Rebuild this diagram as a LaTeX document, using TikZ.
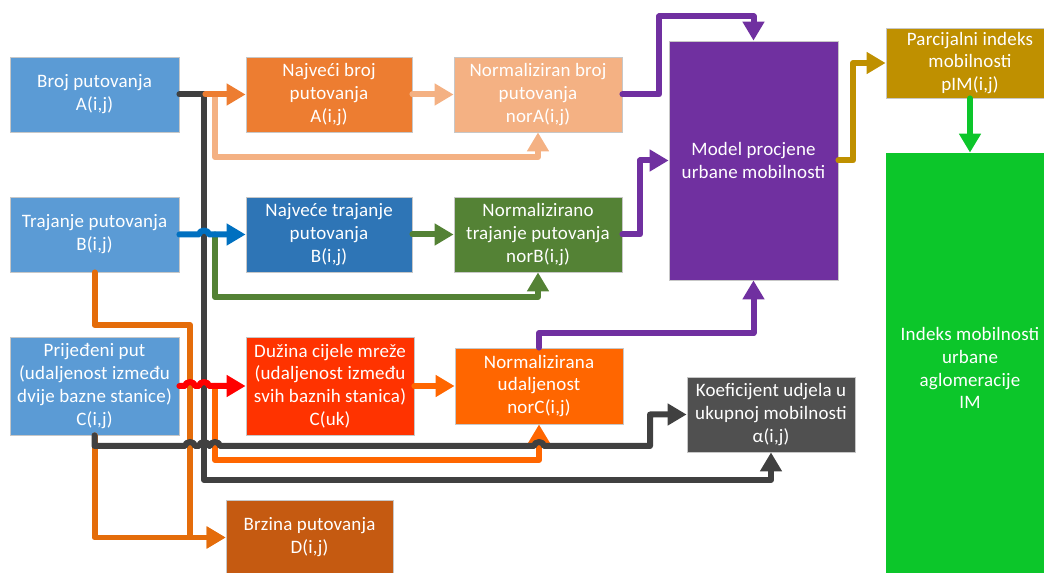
\documentclass[tikz,border=0pt]{standalone}
\usepackage{fontspec}
\setmainfont{Carlito}
\usepackage{xcolor}
\usepackage{tikz}
\usetikzlibrary{arrows.meta}

\definecolor{cellblue}{HTML}{5B9BD5}
\definecolor{boxorange}{HTML}{ED7D31}
\definecolor{boxblue}{HTML}{2E75B6}
\definecolor{boxred}{HTML}{FF3300}
\definecolor{peach}{HTML}{F4B183}
\definecolor{boxgreen}{HTML}{548235}
\definecolor{normorange}{HTML}{FF6600}
\definecolor{modelpurple}{HTML}{7030A0}
\definecolor{gold}{HTML}{BF9000}
\definecolor{idxgreen}{HTML}{0CC62A}
\definecolor{koefgray}{HTML}{505050}
\definecolor{brown}{HTML}{C55A11}
\definecolor{wiregray}{HTML}{404040}
\definecolor{arrowblue}{HTML}{0070C0}
\definecolor{arrowred}{HTML}{FF0000}
\definecolor{speedorange}{HTML}{E46C0A}

\begin{document}
\begin{tikzpicture}[x=0.02cm, y=-0.02cm,
    box/.style={draw=black!22, line width=0.5pt, text=white, align=center, inner sep=0pt,
      font=\fontsize{10.8}{13}\selectfont\addfontfeatures{LetterSpace=1}},
    link/.style={line width=0.12cm, line join=round, line cap=round,
      -{Triangle[length=0.38cm,width=0.42cm]}},
    wire/.style={line width=0.12cm, line join=round, line cap=round}]
  \useasboundingbox (0,0) rectangle (1044,573);

  % input boxes
  \node[box, fill=cellblue, minimum width=3.38cm, minimum height=1.5cm] (brojA) at (94.5,94.5) {Broj putovanja\\A(i,j)};
  \node[box, fill=cellblue, minimum width=3.38cm, minimum height=1.5cm] (trajB) at (94.5,234.5) {Trajanje putovanja\\B(i,j)};
  \node[box, fill=cellblue, minimum width=3.38cm, minimum height=1.96cm] (putC) at (94.5,386) {Prijeđeni put\\(udaljenost između\\dvije bazne stanice)\\C(i,j)};

  % maxima
  \node[box, fill=boxorange, minimum width=3.32cm, minimum height=1.5cm] (najA) at (329,94.5) {Najveći broj\\putovanja\\A(i,j)};
  \node[box, fill=boxblue, minimum width=3.32cm, minimum height=1.5cm] (najB) at (329,234.5) {Najveće trajanje\\putovanja\\B(i,j)};
  \node[box, fill=boxred, minimum width=3.36cm, minimum height=1.96cm] (duzC) at (330,386) {Dužina cijele mreže\\(udaljenost između\\svih baznih stanica)\\C(uk)};

  % normalised values
  \node[box, fill=peach, minimum width=3.36cm, minimum height=1.5cm] (norA) at (538,94.5) {Normaliziran broj\\putovanja\\norA(i,j)};
  \node[box, fill=boxgreen, minimum width=3.36cm, minimum height=1.5cm] (norB) at (538,234.5) {Normalizirano\\trajanje putovanja\\norB(i,j)};
  \node[box, fill=normorange, minimum width=3.36cm, minimum height=1.52cm] (norC) at (539,386) {Normalizirana\\udaljenost\\norC(i,j)};

  \node[box, fill=modelpurple, minimum width=3.38cm, minimum height=4.78cm] (model) at (753.5,160.5) {Model procjene\\urbane mobilnosti};
  \node[box, fill=gold, minimum width=3.36cm, minimum height=1.4cm] (pim) at (970,63) {Parcijalni indeks\\mobilnosti\\pIM(i,j)};
  \node[box, fill=idxgreen, draw=none, minimum width=3.36cm, minimum height=8.6cm] (idx) at (970,368) {Indeks mobilnosti\\urbane\\aglomeracije\\IM};
  \node[box, fill=koefgray, minimum width=3.36cm, minimum height=1.5cm] (koef) at (771,414.5) {Koeficijent udjela u\\ukupnoj mobilnosti\\α(i,j)};
  \node[box, fill=brown, minimum width=3.34cm, minimum height=1.5cm] (brz) at (309.5,537.5) {Brzina putovanja\\D(i,j)};

  % towards the speed box
  \draw[link, speedorange] (trajB.south) -- (94.5,325) -- (190,325) -- (190,537.5) -- (brz.west);
  \draw[link, speedorange] (putC.south) -- (94.5,537.5) -- (brz.west);

  % feedback lines
  \foreach \y/\d/\t/\c in {94.5/157/norA/peach, 234.5/297/norB/boxgreen, 386/460/norC/normorange}
    \draw[link, \c] (215,\y) -- (215,\d) -| (\t.south);

  \draw[link, wiregray] (brojA.east) -- (204,94.5) -- (204,480) -| (koef.south);

  \draw[link, boxorange] (brojA.east) ++(26,0) -- (najA.west);
  \draw[link, arrowblue] (trajB.east) -- (199,234.5) arc[start angle=180, end angle=0, x radius=0.1cm, y radius=0.08cm] -- (najB.west);
  \draw[link, arrowred] (putC.east) -- (185,386) arc[start angle=180, end angle=0, x radius=0.1cm, y radius=0.08cm]
    -- (199,386) arc[start angle=180, end angle=0, x radius=0.1cm, y radius=0.08cm] -- (duzC.west);
  \draw[link, wiregray] (putC.south) -- (94.5,446) -- (185,446) arc[start angle=180, end angle=0, x radius=0.1cm, y radius=0.08cm]
    -- (199,446) arc[start angle=180, end angle=0, x radius=0.1cm, y radius=0.08cm]
    -- (210,446) arc[start angle=180, end angle=0, x radius=0.1cm, y radius=0.08cm]
    -- (534,446) arc[start angle=180, end angle=0, x radius=0.1cm, y radius=0.08cm]
    -- (650,446) |- (koef.west);

  \foreach \s/\t/\c in {najA/norA/peach, najB/norB/boxgreen, duzC/norC/normorange}
    \draw[link, \c] (\s.east) -- (\t.west);

  % into the model and out of it
  \draw[link, modelpurple] (norA.east) -- (659,94.5) -- (659,16.5) -| (model.north);
  \draw[link, modelpurple] (norB.east) -- (640,234.5) |- (model.west);
  \draw[link, modelpurple] (norC.north) -- (539,333) -| (model.south);
  \draw[link, gold] (model.east) -- (853,160.5) |- (pim.west);
  \draw[link, idxgreen] (pim.south) -- (idx.north);
\end{tikzpicture}
\end{document}
